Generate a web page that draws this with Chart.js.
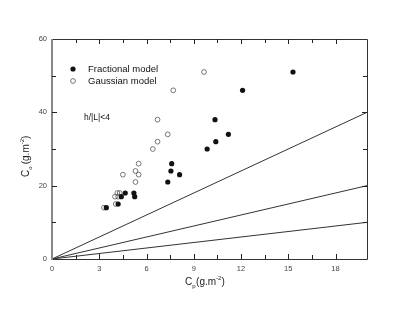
<!DOCTYPE html>
<html>
<head>
<meta charset="utf-8">
<script src="https://cdn.jsdelivr.net/npm/chart.js@4.4.0/dist/chart.umd.min.js"></script>
<style>
  html, body { margin: 0; padding: 0; background: #fff; }
  #wrap { width: 407px; height: 309px; }
</style>
</head>
<body>
<div id="wrap"><canvas id="chart" width="407" height="309"></canvas></div>
<script>
// Fractional model points (Cp, Co)
const fracX = [15.3, 12.1, 10.35, 10.4, 11.2, 9.85, 7.6, 7.55, 8.1, 7.35, 5.2, 5.25, 4.65, 4.4, 4.2, 3.45];
const fracY = [51, 46, 38, 32, 34, 30, 26, 24, 23, 21, 18, 17, 18, 17, 15, 14];
// Gaussian model points
const gaussX = [9.65, 7.7, 6.7, 6.7, 7.35, 6.4, 5.5, 4.5, 5.3, 5.5, 5.3, 4.0, 4.15, 4.3, 4.2, 4.05, 3.3];
const gaussY = [51, 46, 38, 32, 34, 30, 26, 23, 24, 23, 21, 17, 18, 18, 17, 15, 14];
// reference lines Co = k * Cp
const lineX = [0, 20];
const lineSlopes = [2, 1, 0.5];

const toPts = (xs, ys) => xs.map((x, i) => ({ x: x, y: ys[i] }));

const lineSets = lineSlopes.map(k => ({
  type: 'line',
  data: lineX.map(x => ({ x: x, y: x * k })),
  borderColor: '#333',
  borderWidth: 1,
  pointRadius: 0,
  fill: false,
  order: 3
}));

// draws inward ticks, frame, axis titles, legend and note
const decor = {
  id: 'decor',
  afterDraw(chart) {
    const ctx = chart.ctx;
    const a = chart.chartArea;
    const xs = chart.scales.x, ys = chart.scales.y;
    ctx.save();
    ctx.strokeStyle = '#333';
    ctx.lineWidth = 1;
    // frame
    ctx.beginPath();
    ctx.moveTo(a.left, a.top + 0.5); ctx.lineTo(a.right + 0.5, a.top + 0.5);
    ctx.lineTo(a.right + 0.5, a.bottom + 0.5); ctx.lineTo(a.left, a.bottom + 0.5);
    ctx.stroke();
    ctx.strokeStyle = '#888';
    ctx.lineWidth = 2;
    ctx.beginPath();
    ctx.moveTo(a.left, a.top); ctx.lineTo(a.left, a.bottom + 1);
    ctx.stroke();
    // ticks
    ctx.strokeStyle = '#222';
    ctx.lineWidth = 1;
    ctx.beginPath();
    xs.ticks.forEach(t => {
      if (t.value <= xs.min || t.value >= xs.max) return;
      const p = Math.round(xs.getPixelForValue(t.value)) + 0.5;
      const len = t.value % 3 === 0 ? 5 : 4;
      ctx.moveTo(p, a.bottom); ctx.lineTo(p, a.bottom - len);
      ctx.moveTo(p, a.top); ctx.lineTo(p, a.top + len);
    });
    ys.ticks.forEach(t => {
      if (t.value <= ys.min || t.value >= ys.max) return;
      const p = Math.round(ys.getPixelForValue(t.value)) + 0.5;
      const len = t.value % 20 === 0 ? 5 : 4;
      ctx.moveTo(a.left, p); ctx.lineTo(a.left + len, p);
      ctx.moveTo(a.right, p); ctx.lineTo(a.right - len, p);
    });
    ctx.stroke();

    // axis titles with sub/superscripts
    ctx.fillStyle = '#222';
    ctx.textBaseline = 'alphabetic';
    const drawTitle = (x, y, sub) => {
      let cx = x;
      ctx.font = '10px "Liberation Sans", Arial, sans-serif';
      ctx.fillText('C', cx, y); cx += ctx.measureText('C').width;
      ctx.font = '6px "Liberation Sans", Arial, sans-serif';
      ctx.fillText(sub, cx, y + 3); cx += ctx.measureText(sub).width + 0.5;
      ctx.font = '10px "Liberation Sans", Arial, sans-serif';
      ctx.fillText('(g.m', cx, y); cx += ctx.measureText('(g.m').width;
      ctx.font = '6px "Liberation Sans", Arial, sans-serif';
      ctx.fillText('-2', cx, y - 5); cx += ctx.measureText('-2').width;
      ctx.font = '10px "Liberation Sans", Arial, sans-serif';
      ctx.fillText(')', cx, y);
    };
    drawTitle(185, 285, 'p');
    ctx.save();
    ctx.translate(29, 177);
    ctx.rotate(-Math.PI / 2);
    drawTitle(0, 0, 'o ');
    ctx.restore();

    // legend
    ctx.font = '9.5px "Liberation Sans", Arial, sans-serif';
    ctx.textBaseline = 'middle';
    ctx.fillStyle = '#111';
    ctx.beginPath(); ctx.arc(73, 69, 2.6, 0, Math.PI * 2); ctx.fill();
    ctx.fillText('Fractional model', 88, 69);
    ctx.strokeStyle = '#555'; ctx.lineWidth = 0.8;
    ctx.beginPath(); ctx.arc(73, 81, 2.4, 0, Math.PI * 2); ctx.stroke();
    ctx.fillText('Gaussian model', 88, 81);
    ctx.font = '8.5px "Liberation Sans", Arial, sans-serif';
    ctx.fillText('h/|L|<4', 84, 118);
    ctx.restore();
  }
};

new Chart(document.getElementById('chart'), {
  type: 'scatter',
  data: {
    datasets: [
      {
        label: 'Fractional model',
        data: toPts(fracX, fracY),
        backgroundColor: '#111',
        borderColor: '#111',
        pointRadius: 2.6,
        borderWidth: 0,
        order: 1
      },
      {
        label: 'Gaussian model',
        data: toPts(gaussX, gaussY),
        backgroundColor: 'rgba(255,255,255,0)',
        borderColor: '#555',
        pointRadius: 2.4,
        borderWidth: 0.8,
        order: 2
      }
    ].concat(lineSets)
  },
  options: {
    responsive: false,
    animation: false,
    layout: { padding: { left: 0, right: 40, top: 39, bottom: 0 } },
    plugins: { legend: { display: false }, tooltip: { enabled: false } },
    scales: {
      x: {
        type: 'linear',
        min: 0, max: 20,
        grid: { display: false, tickLength: 0 },
        border: { display: false },
        afterFit: s => { s.height = 50; },
        ticks: {
          stepSize: 1.5,
          autoSkip: false,
          maxRotation: 0,
          padding: 5,
          color: '#444',
          font: { size: 7.5, family: '"Liberation Sans", Arial, sans-serif' },
          callback: v => (v % 3 === 0 ? v : '')
        }
      },
      y: {
        type: 'linear',
        min: 0, max: 60,
        grid: { display: false, tickLength: 0 },
        border: { display: false },
        afterFit: s => { s.width = 52; },
        ticks: {
          stepSize: 10,
          autoSkip: false,
          padding: 5,
          color: '#444',
          font: { size: 7.5, family: '"Liberation Sans", Arial, sans-serif' },
          callback: v => (v % 20 === 0 ? v : '')
        }
      }
    }
  },
  plugins: [decor]
});
</script>
</body>
</html>
